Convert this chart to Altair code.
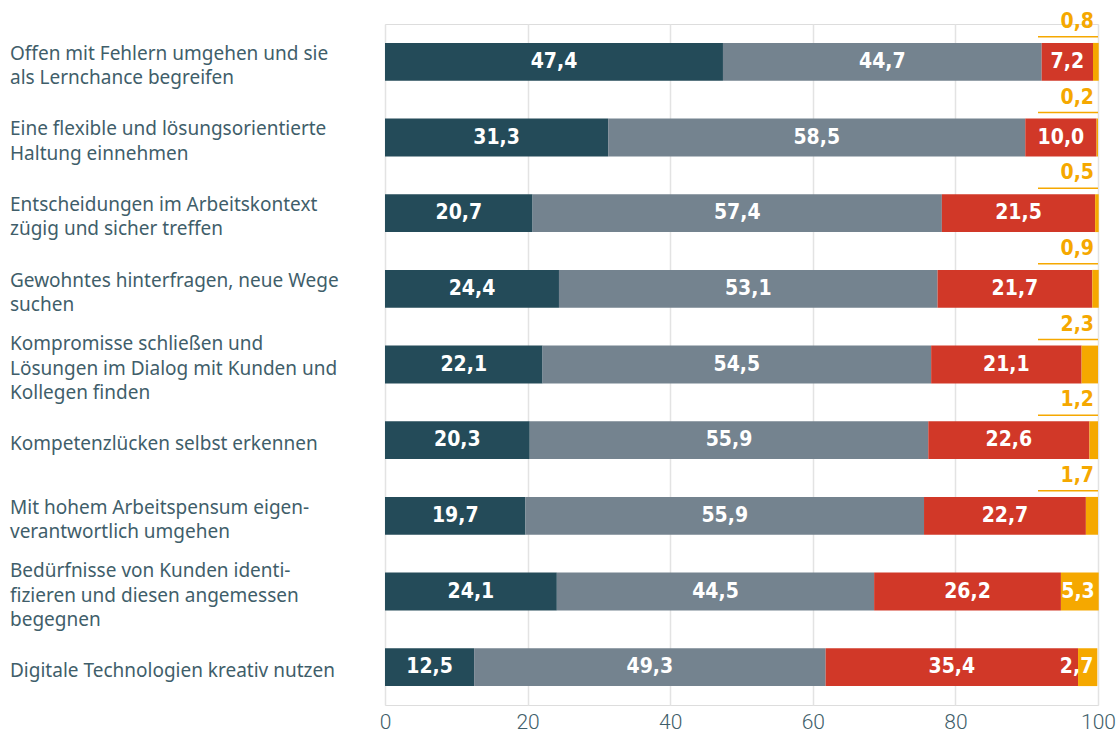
import altair as alt
import pandas as pd

categories = [
    "Offen mit Fehlern umgehen und sie\nals Lernchance begreifen",
    "Eine flexible und lösungsorientierte\nHaltung einnehmen",
    "Entscheidungen im Arbeitskontext\nzügig und sicher treffen",
    "Gewohntes hinterfragen, neue Wege\nsuchen",
    "Kompromisse schließen und\nLösungen im Dialog mit Kunden und\nKollegen finden",
    "Kompetenzlücken selbst erkennen",
    "Mit hohem Arbeitspensum eigen-\nverantwortlich umgehen",
    "Bedürfnisse von Kunden identi-\nfizieren und diesen angemessen\nbegegnen",
    "Digitale Technologien kreativ nutzen",
]
seg_names = ["A", "B", "C", "D"]
seg_colors = ["#244b59", "#74838f", "#d13828", "#f5a800"]
s1 = [47.4, 31.3, 20.7, 24.4, 22.1, 20.3, 19.7, 24.1, 12.5]
s2 = [44.7, 58.5, 57.4, 53.1, 54.5, 55.9, 55.9, 44.5, 49.3]
s3 = [7.2, 10.0, 21.5, 21.7, 21.1, 22.6, 22.7, 26.2, 35.4]
s4 = [0.8, 0.2, 0.5, 0.9, 2.3, 1.2, 1.7, 5.3, 2.7]
orange_above = [True, True, True, True, True, True, True, False, False]
x_ticks = [0, 20, 40, 60, 80, 100]

series = [s1, s2, s3, s4]
rows = []
for i, c in enumerate(categories):
    start = 0.0
    for k, s in enumerate(series):
        v = s[i]
        rows.append({
            "cat": c, "seg": seg_names[k], "order": k, "value": v,
            "start": start, "end": start + v, "mid": start + v / 2,
            "label": f"{v:.1f}".replace(".", ","),
            "above": orange_above[i],
        })
        start += v
df = pd.DataFrame(rows)

cat_df = pd.DataFrame({"cat": categories,
                       "lines": [c.split("\n") for c in categories],
                       "n": [len(c.split("\n")) for c in categories]})

text_color = "#3f5e6a"
num_font = "'DejaVu Sans Condensed', Roboto, sans-serif"
cat_font = "Noto Sans"
cat_size = 19
line_h = 24.5

y_enc = alt.Y("cat:N", sort=categories, title=None,
              scale=alt.Scale(paddingInner=0.5, paddingOuter=0.25),
              axis=None)

x_scale = alt.Scale(domain=[0, 100], nice=False)
x_axis = alt.Axis(values=x_ticks, title=None, domain=False, ticks=False, grid=True,
                  gridColor="#e3e3e3", gridWidth=1.5, labelFont="Roboto",
                  labelFontWeight=300, labelFontSize=21, labelColor=text_color,
                  labelPadding=6, labelFlush=False)

bars = alt.Chart(df).mark_bar().encode(
    y=y_enc,
    x=alt.X("start:Q", scale=x_scale, axis=x_axis),
    x2="end:Q",
    color=alt.Color("seg:N", scale=alt.Scale(domain=seg_names, range=seg_colors), legend=None),
)

cat_layers = []
for n in sorted(cat_df["n"].unique()):
    sub = cat_df[cat_df["n"] == n]
    cat_layers.append(
        alt.Chart(sub).mark_text(
            font=cat_font, fontSize=cat_size, color=text_color, align="left",
            baseline="middle", lineHeight=line_h, dy=-(n - 1) * line_h / 2 + 4
        ).encode(y=alt.Y("cat:N", sort=categories), x=alt.value(-375), text="lines")
    )

inner = df[(df["seg"] != "D")]
inner_labels = alt.Chart(inner).mark_text(
    font=num_font, fontSize=21, fontWeight="bold", color="white", baseline="middle"
).encode(y=alt.Y("cat:N", sort=categories), x=alt.X("mid:Q", scale=x_scale), text="label:N")

d_in = df[(df["seg"] == "D") & (~df["above"])]
d_in_labels = alt.Chart(d_in).mark_text(
    font=num_font, fontSize=21, fontWeight="bold", color="white", baseline="middle",
    align="right", dx=-4
).encode(y=alt.Y("cat:N", sort=categories), x=alt.X("end:Q", scale=x_scale), text="label:N")

d_out = df[(df["seg"] == "D") & (df["above"])]
d_out_labels = alt.Chart(d_out).mark_text(
    font=num_font, fontSize=21, fontWeight="bold", color="#f5a800", baseline="middle",
    align="right", dx=-4, yOffset=-40
).encode(y=alt.Y("cat:N", sort=categories), x=alt.datum(100, scale=x_scale), text="label:N")

d_out_rules = alt.Chart(d_out).mark_rule(
    color="#f5a800", strokeWidth=1.5, yOffset=-25, xOffset=-60
).encode(y=alt.Y("cat:N", sort=categories), x=alt.datum(100), x2=alt.datum(100))

chart = alt.layer(bars, *cat_layers, inner_labels, d_in_labels, d_out_rules, d_out_labels).properties(
    width=713, height=681,
    autosize=alt.AutoSizeParams(type="none"),
    padding={"left": 385, "top": 24, "right": 18, "bottom": 28},
).configure_view(stroke=None).configure(background="white")

chart.save("out.html", embed_options={"renderer": "svg", "actions": False})
